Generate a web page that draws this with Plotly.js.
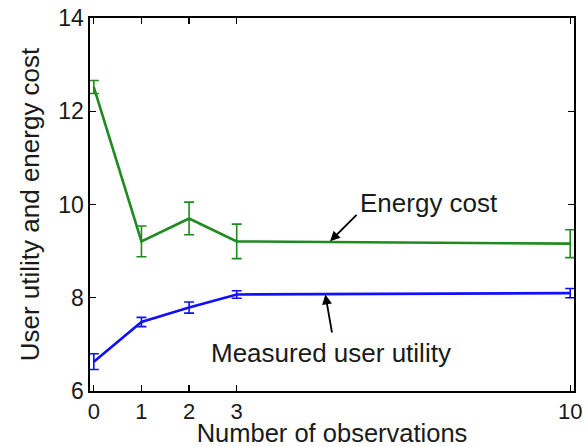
<!DOCTYPE html>
<html>
<head>
<meta charset="utf-8">
<script src="https://cdn.plot.ly/plotly-3.0.1.min.js"></script>
<style>html,body{margin:0;padding:0;background:#fff;}#chart{width:587px;height:447px;}</style>
</head>
<body>
<div id="chart"></div>
<script>
// Data
const observations = [0, 1, 2, 3, 10];
const energyCost = [12.52, 9.21, 9.70, 9.21, 9.16];
const energyCostErr = [0.14, 0.33, 0.35, 0.37, 0.30];
const userUtility = [6.63, 7.48, 7.79, 8.07, 8.10];
const userUtilityErr = [0.17, 0.10, 0.12, 0.08, 0.10];
const xTicks = [0, 1, 2, 3, 10];
const yTicks = [6, 8, 10, 12, 14];

const FONT = 'Liberation Sans, Arial, Helvetica, sans-serif';
const TXT = '#1a1a1a';

const traces = [
  {
    x: observations, y: energyCost, type: 'scatter', mode: 'lines',
    line: {color: '#1f8a1f', width: 2.6},
    error_y: {type: 'data', array: energyCostErr, visible: true, color: '#1f8a1f', thickness: 1.6, width: 5},
    showlegend: false, hoverinfo: 'skip'
  },
  {
    x: observations, y: userUtility, type: 'scatter', mode: 'lines',
    line: {color: '#1010ff', width: 2.6},
    error_y: {type: 'data', array: userUtilityErr, visible: true, color: '#1010ff', thickness: 1.6, width: 5},
    showlegend: false, hoverinfo: 'skip'
  }
];

const layout = {
  width: 587, height: 447,
  margin: {l: 89.5, r: 13, t: 17.5, b: 56.3, pad: 0},
  paper_bgcolor: '#fff', plot_bgcolor: '#fff',
  font: {family: FONT, color: TXT, size: 22},
  xaxis: {
    range: [-0.08, 10.08], tickvals: xTicks, ticktext: xTicks.map(String),
    ticks: 'inside', ticklen: 6, tickwidth: 1.3, tickcolor: '#000',
    showline: true, linecolor: '#000', linewidth: 1.6, mirror: 'ticks',
    showgrid: false, zeroline: false,
    tickfont: {family: FONT, size: 22, color: TXT},
    title: {text: 'Number of observations', font: {family: FONT, size: 25.5, color: TXT}, standoff: 3}
  },
  yaxis: {
    range: [6, 14], tickvals: yTicks, ticktext: yTicks.map(String),
    ticks: 'inside', ticklen: 6, tickwidth: 1.3, tickcolor: '#000',
    showline: true, linecolor: '#000', linewidth: 1.6, mirror: 'ticks',
    showgrid: false, zeroline: false,
    tickfont: {family: FONT, size: 23, color: TXT},
    title: {text: 'User utility and energy cost', font: {family: FONT, size: 26, color: TXT}, standoff: 11}
  },
  annotations: [
    {x: 7.04, y: 10.03, xref: 'x', yref: 'y', text: 'Energy cost', showarrow: false,
     font: {family: FONT, size: 26, color: TXT}},
    {x: 4.96, y: 9.21, xref: 'x', yref: 'y', text: ' ', showarrow: true,
     ax: 28, ay: -28, arrowhead: 2, arrowsize: 1.1, arrowwidth: 1.8, arrowcolor: '#000',
     font: {size: 1}},
    {x: 4.98, y: 6.82, xref: 'x', yref: 'y', text: 'Measured user utility', showarrow: false,
     font: {family: FONT, size: 26, color: TXT}},
    {x: 4.86, y: 8.07, xref: 'x', yref: 'y', text: ' ', showarrow: true,
     ax: 7, ay: 40, arrowhead: 2, arrowsize: 1.1, arrowwidth: 1.8, arrowcolor: '#000',
     font: {size: 1}}
  ]
};

Plotly.newPlot('chart', traces, layout, {staticPlot: true, displayModeBar: false});
</script>
</body>
</html>
